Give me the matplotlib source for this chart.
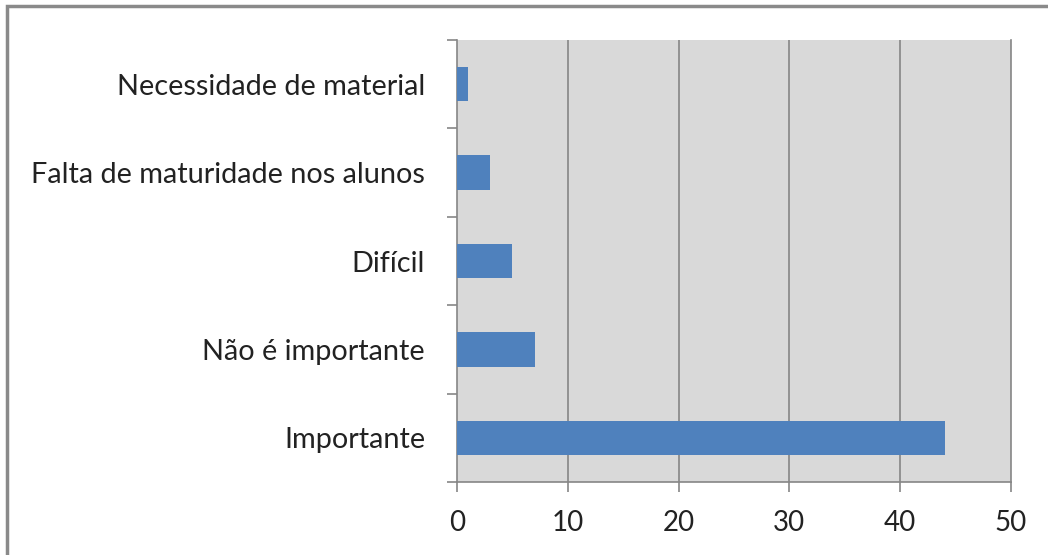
import matplotlib
matplotlib.use("Agg")
import matplotlib.pyplot as plt
from matplotlib.patches import Rectangle
import numpy as np

categories = ["Importante", "Não é importante", "Difícil",
              "Falta de maturidade nos alunos", "Necessidade de material"]
values = [44, 7, 5, 3, 1]
xticks = [0, 10, 20, 30, 40, 50]

plt.rcParams['font.family'] = ['Lato', 'DejaVu Sans']

W, H = 1048, 555
fig = plt.figure(figsize=(W / 100, H / 100), dpi=100)
fig.patch.set_facecolor('white')

# outer frame
fig.patches.append(Rectangle((7 / W, -0.1), 1.2, (H - 6) / H + 0.1,
                             transform=fig.transFigure, fill=False,
                             edgecolor='#8a8a8a', linewidth=2.5))

left, right, top, bottom = 457, 1011, 40, 482
ax = fig.add_axes([left / W, 1 - bottom / H, (right - left) / W, (bottom - top) / H])
ax.set_facecolor('#d9d9d9')

y = np.arange(len(categories))
ax.barh(y, values, height=0.39, color='#4f81bd', zorder=3)

ax.set_xlim(0, 50)
ax.set_ylim(-0.5, len(categories) - 0.5)
ax.set_xticks(xticks)
ax.set_xticklabels([str(t) for t in xticks], fontsize=20, color='#222222')
ax.set_yticks(y)
ax.set_yticklabels(categories, fontsize=20.8, color='#222222')
ax.tick_params(axis='y', length=0, pad=23)
ax.set_yticks(np.arange(-0.5, len(categories)), minor=True)
ax.tick_params(axis='y', which='minor', length=7.5, width=1.2, color='#868686', direction='out')
ax.tick_params(axis='x', length=7.5, width=1.2, color='#868686', direction='out', pad=13)

for t in xticks[1:-1]:
    ax.axvline(t, color='#868686', linewidth=1.2, zorder=1)

ax.spines['top'].set_visible(False)
for s in ['left', 'bottom', 'right']:
    ax.spines[s].set_color('#868686')
    ax.spines[s].set_linewidth(1.2)

fig.savefig('out.png', dpi=100)
